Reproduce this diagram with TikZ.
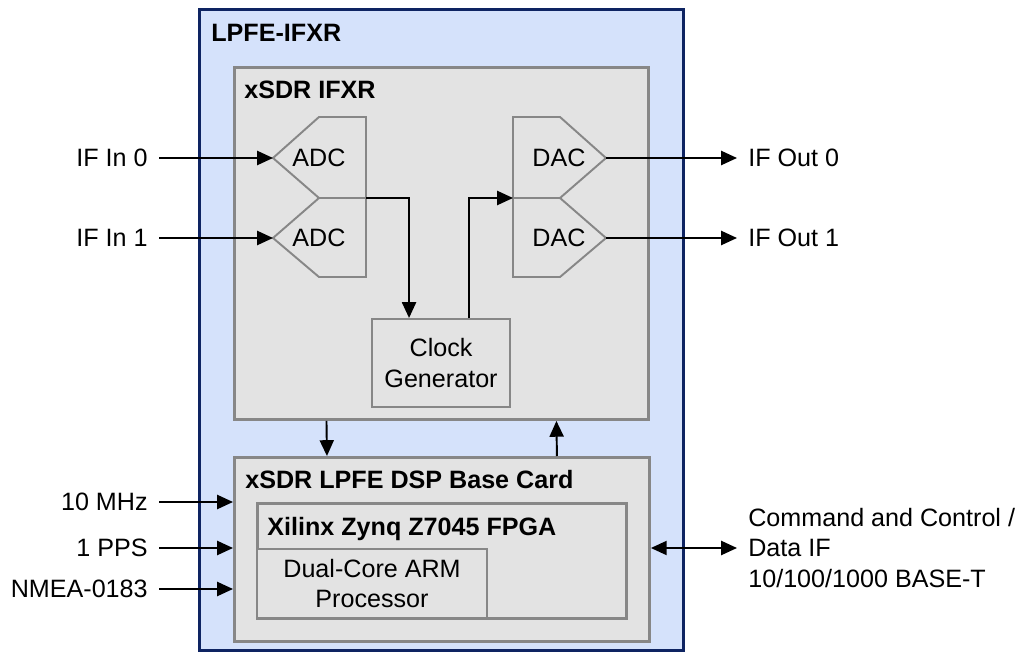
\documentclass[tikz,border=0pt]{standalone}
\usepackage{fontspec}
\setmainfont{Liberation Sans}
\usetikzlibrary{arrows.meta,positioning}

\definecolor{lpfefill}{HTML}{D5E2FB}
\definecolor{lpfeline}{HTML}{0E2462}
\definecolor{cardfill}{HTML}{E3E3E3}
\definecolor{cardline}{HTML}{878787}

\tikzset{
	blk/.style={draw=cardline, line width=1.7pt, fill=cardfill, rectangle, inner sep=0pt, anchor=north west},
	subblk/.style={blk, line width=1.2pt},
	conv/.style={draw=cardline, line width=1.1pt, fill=cardfill},
	txt/.style={font=\fontsize{14.3}{17.5}\selectfont, inner ysep=0pt, inner xsep=0.22cm},
	ttl/.style={font=\fontsize{14.3}{17.5}\selectfont\bfseries, inner sep=0pt, anchor=base west},
	sig/.style={line width=1.1pt, -{Triangle[length=9pt,width=8pt]}},
	sigboth/.style={line width=1.1pt, {Triangle[length=9pt,width=8pt]}-{Triangle[length=9pt,width=8pt]}},
}

\begin{document}
\begin{tikzpicture}[x=0.02cm, y=-0.02cm]
	\useasboundingbox (0,0) rectangle (1022,652);

	\node[blk, draw=lpfeline, fill=lpfefill, minimum width=9.68cm, minimum height=12.82cm] (lpfe) at (198,8) {};
	\node[ttl] (lpfettl) at ([shift={(0.26cm,-0.68cm)}]lpfe.north west) {LPFE-IFXR};

	\node[blk, minimum width=8.28cm, minimum height=7.04cm] (ifxr) at (233,66) {};
	\node[ttl] (ifxrttl) at ([shift={(0.22cm,-0.66cm)}]ifxr.north west) {xSDR IFXR};

	\node[blk, minimum width=8.30cm, minimum height=3.68cm] (base) at (233,456) {};
	\node[ttl] (basettl) at ([shift={(0.24cm,-0.66cm)}]base.north west) {xSDR LPFE DSP Base Card};

	\node[blk, minimum width=7.38cm, minimum height=2.30cm] (fpga) at (256,502) {};
	\node[ttl] (fpgattl) at ([shift={(0.22cm,-0.68cm)}]fpga.north west) {Xilinx Zynq Z7045 FPGA};

	\node[subblk, minimum width=4.60cm, minimum height=1.38cm] (arm) at (256,548) {};
	\node[txt, align=center] (armtxt) at (arm.center) {Dual-Core ARM\\Processor};

	\node[subblk, minimum width=2.76cm, minimum height=1.76cm] (clk) at (371,318) {};
	\node[txt, align=center] (clktxt) at (clk.center) {Clock\\Generator};

	% converters
	\draw[conv] (319,117) -- (366,117) -- (366,198) -- (319,198) -- (273,158) -- cycle;
	\draw[conv] (319,198) -- (366,198) -- (366,277) -- (319,277) -- (273,238) -- cycle;
	\draw[conv] (513,117) -- (560,117) -- (606,158) -- (560,198) -- (513,198) -- cycle;
	\draw[conv] (513,198) -- (560,198) -- (606,238) -- (560,277) -- (513,277) -- cycle;
	\node[txt] (adc0) at (319,158) {ADC};
	\node[txt] (adc1) at (319,238) {ADC};
	\node[txt] (dac0) at (559,158) {DAC};
	\node[txt] (dac1) at (559,238) {DAC};
	\coordinate (adc0in) at (273,158);
	\coordinate (adc1in) at (273,238);
	\coordinate (dac0out) at (606,158);
	\coordinate (dac1out) at (606,238);
	\coordinate (adcjoin) at (366,198);
	\coordinate (dacjoin) at (513,198);

	\node[txt, anchor=east] (ifin0) at (159,158) {IF In 0};
	\node[txt, anchor=east] (ifin1) at (159,238) {IF In 1};
	\node[txt, anchor=west] (ifout0) at (737,158) {IF Out 0};
	\node[txt, anchor=west] (ifout1) at (737,238) {IF Out 1};
	\node[txt, anchor=east] (tenmhz) at (159,502) {10 MHz};
	\node[txt, anchor=east] (pps) at (159,548) {1 PPS};
	\node[txt, anchor=east] (nmea) at (159,589) {NMEA-0183};
	\node[txt, anchor=west, align=left] (cmd) at (737,548) {Command and Control /\\Data IF\\10/100/1000 BASE-T};

	\draw[sig] (ifin0) -- (adc0in);
	\draw[sig] (ifin1) -- (adc1in);
	\draw[sig] (dac0out) -- (ifout0);
	\draw[sig] (dac1out) -- (ifout1);
	\draw[sig] (adcjoin) -| ([xshift=-0.64cm]clk.north);
	\draw[sig] ([xshift=0.56cm]clk.north) |- (dacjoin);
	\draw[sig] ([xshift=-2.3cm]ifxr.south) -- ([xshift=-2.3cm]base.north);
	\draw[sig] ([xshift=2.3cm]base.north) -- ([xshift=2.3cm]ifxr.south);
	\draw[sig] (tenmhz) -- (tenmhz -| base.west);
	\draw[sig] (pps) -- (pps -| base.west);
	\draw[sig] (nmea) -- (nmea -| base.west);
	\draw[sigboth] (base.east |- cmd) -- (cmd);
\end{tikzpicture}
\end{document}
